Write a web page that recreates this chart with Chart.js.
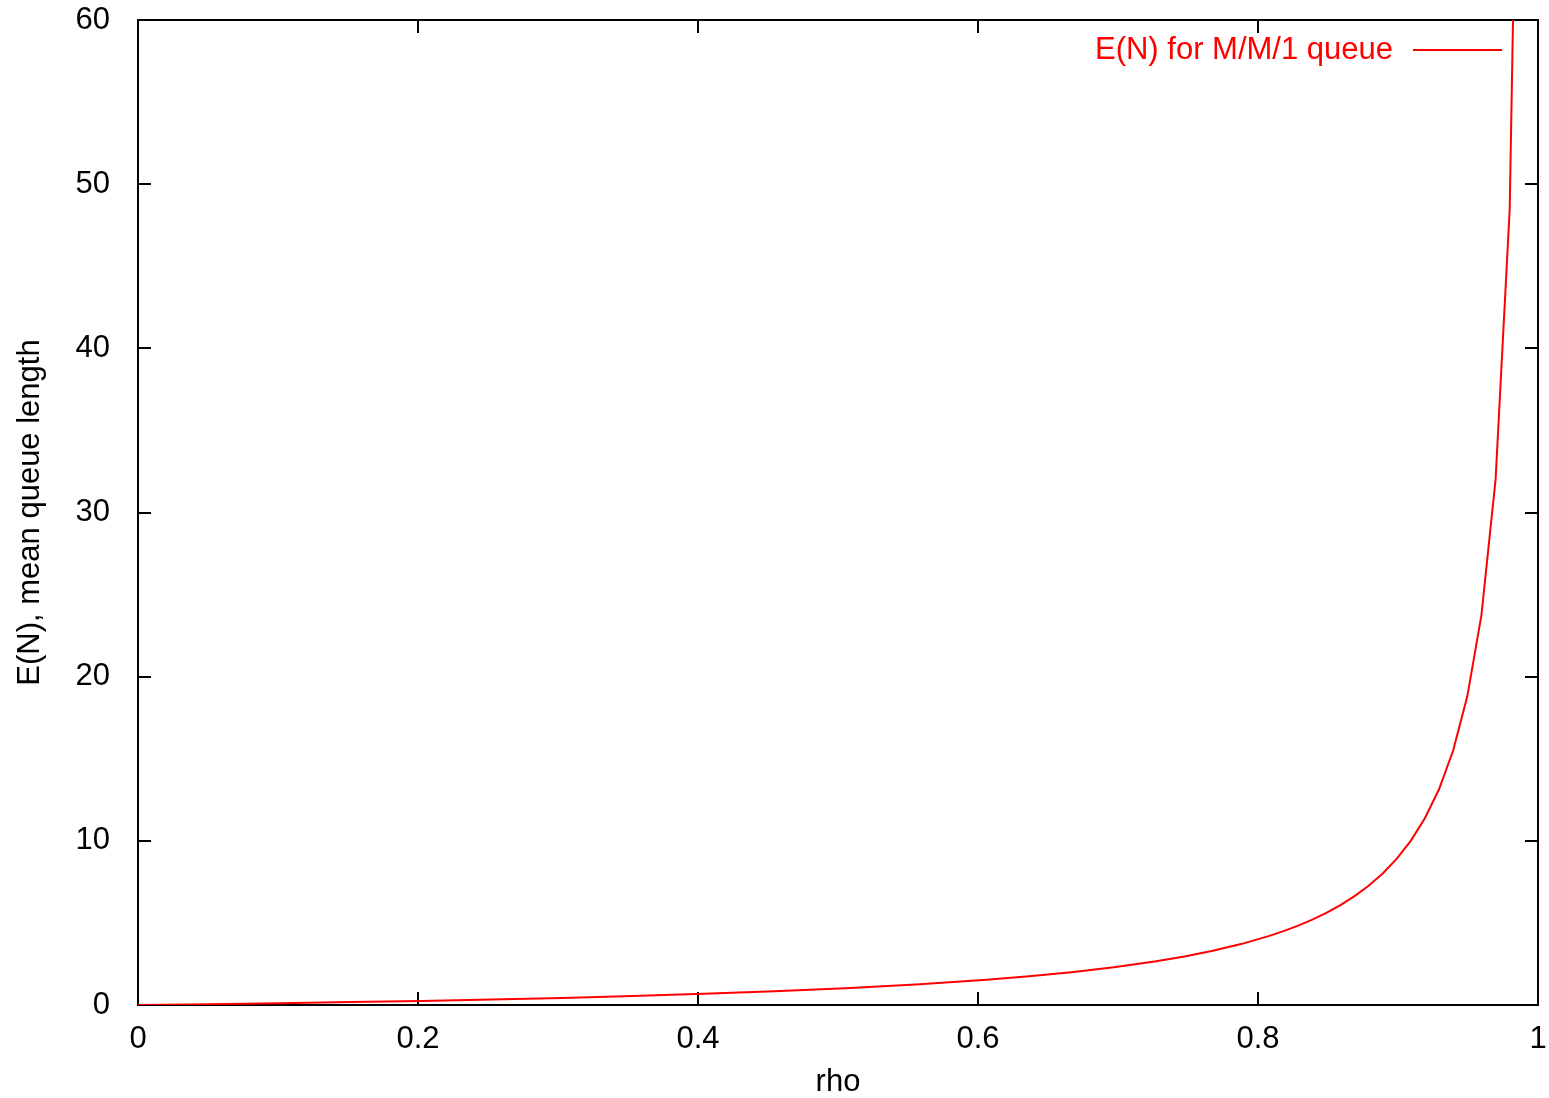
<!DOCTYPE html>
<html>
<head>
<meta charset="utf-8">
<script src="https://cdn.jsdelivr.net/npm/chart.js@4"></script>
<style>
  html, body { margin: 0; padding: 0; background: #ffffff; }
  #wrap { width: 1549px; height: 1098px; }
</style>
</head>
<body>
<div id="wrap"><canvas id="queueChart" width="1549" height="1098"></canvas></div>
<script>
"use strict";

// values (sample points of the curve)
const rhoValues = [
  0, 0.0505, 0.1010, 0.1515, 0.2020, 0.2525, 0.3030, 0.3535, 0.4040, 0.4545,
  0.5051, 0.5556, 0.6061, 0.6364, 0.6667, 0.6970, 0.7273, 0.7475, 0.7677, 0.7879,
  0.8081, 0.8182, 0.8283, 0.8384, 0.8485, 0.8586, 0.8687, 0.8788, 0.8889, 0.8990,
  0.9091, 0.9192, 0.9293, 0.9394, 0.9495, 0.9596, 0.9697, 0.9798, 0.9899
];
const meanQueueLength = [
  0, 0.05, 0.11, 0.18, 0.25, 0.34, 0.43, 0.55, 0.68, 0.83,
  1.02, 1.25, 1.54, 1.75, 2.0, 2.3, 2.67, 2.96, 3.3, 3.71,
  4.21, 4.5, 4.82, 5.19, 5.6, 6.07, 6.62, 7.25, 8.0, 8.9,
  10.0, 11.38, 13.14, 15.5, 18.8, 23.75, 32.0, 48.5, 98
];
const xTicks = [0, 0.2, 0.4, 0.6, 0.8, 1];
const yTicks = [0, 10, 20, 30, 40, 50, 60];
const seriesLabel = "E(N) for M/M/1 queue";

const FONT = "'Liberation Sans', Arial, sans-serif";
const FONT_SIZE = 31;
const RED = "#ff0000";

const points = rhoValues.map((r, i) => ({ x: r, y: meanQueueLength[i] }));

// frame with inward ticks on all four sides, like gnuplot
const framePlugin = {
  id: "frame",
  beforeDatasetsDraw: (chart) => {
    const { ctx, chartArea: { top, bottom, left, right }, scales } = chart;
    const tl = 13;
    ctx.save();
    ctx.strokeStyle = "#000000";
    ctx.lineWidth = 2;
    ctx.strokeRect(left, top, right - left, bottom - top);
    ctx.beginPath();
    xTicks.forEach((v) => {
      const px = Math.round(scales.x.getPixelForValue(v));
      ctx.moveTo(px, bottom);
      ctx.lineTo(px, bottom - tl);
      ctx.moveTo(px, top);
      ctx.lineTo(px, top + tl);
    });
    yTicks.forEach((v) => {
      const py = Math.round(scales.y.getPixelForValue(v));
      ctx.moveTo(left, py);
      ctx.lineTo(left + tl, py);
      ctx.moveTo(right, py);
      ctx.lineTo(right - tl, py);
    });
    ctx.stroke();
    ctx.restore();
  },
  afterDatasetsDraw: (chart) => {
    const { ctx, chartArea: { top, right } } = chart;
    const y = top + 30;
    ctx.save();
    ctx.font = FONT_SIZE + "px " + FONT;
    ctx.fillStyle = RED;
    ctx.textAlign = "right";
    ctx.textBaseline = "middle";
    ctx.fillText(seriesLabel, right - 145, y);
    ctx.strokeStyle = RED;
    ctx.lineWidth = 2;
    ctx.beginPath();
    ctx.moveTo(right - 125, y);
    ctx.lineTo(right - 36, y);
    ctx.stroke();
    ctx.restore();
  },
};

new Chart(document.getElementById("queueChart"), {
  type: "line",
  data: {
    datasets: [
      {
        label: seriesLabel,
        data: points,
        borderColor: RED,
        backgroundColor: RED,
        borderWidth: 2,
        pointRadius: 0,
        tension: 0,
        fill: false,
      },
    ],
  },
  options: {
    responsive: false,
    animation: false,
    layout: {
      padding: { left: 0, right: 11, top: 20, bottom: 0 },
    },
    plugins: {
      legend: { display: false },
      tooltip: { enabled: false },
    },
    scales: {
      x: {
        type: "linear",
        min: 0,
        max: 1,
        grid: { display: false },
        border: { display: false },
        afterBuildTicks: (scale) => {
          scale.ticks = xTicks.map((v) => ({ value: v }));
        },
        ticks: {
          color: "#000000",
          padding: 8,
          maxRotation: 0,
          font: { family: FONT, size: FONT_SIZE },
          callback: (value) => value.toString(),
        },
        title: {
          display: true,
          text: "rho",
          color: "#000000",
          padding: 0,
          font: { family: FONT, size: FONT_SIZE, lineHeight: 1 },
        },
        afterFit: (scale) => {
          scale.height = 93;
          scale.paddingLeft = 0;
          scale.paddingRight = 0;
        },
      },
      y: {
        type: "linear",
        min: 0,
        max: 60,
        grid: { display: false },
        border: { display: false },
        afterBuildTicks: (scale) => {
          scale.ticks = yTicks.map((v) => ({ value: v }));
        },
        ticks: {
          color: "#000000",
          padding: 20,
          font: { family: FONT, size: FONT_SIZE },
        },
        title: {
          display: true,
          text: "E(N), mean queue length",
          color: "#000000",
          padding: 15,
          font: { family: FONT, size: FONT_SIZE, lineHeight: 1 },
        },
        afterFit: (scale) => {
          scale.width = 138;
          scale.paddingTop = 0;
          scale.paddingBottom = 0;
        },
      },
    },
  },
  plugins: [framePlugin],
});
</script>
</body>
</html>
